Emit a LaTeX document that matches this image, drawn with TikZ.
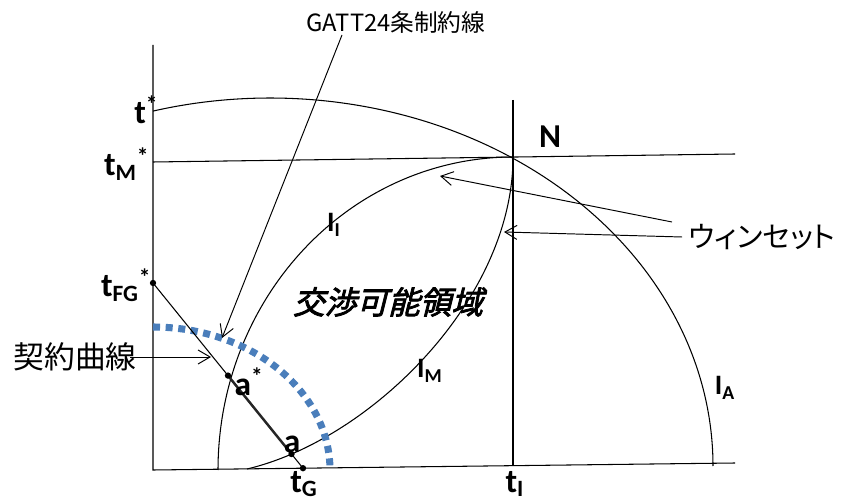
\documentclass[tikz,border=0pt]{standalone}
\usepackage{fontspec}
\setmainfont{Carlito}
\newfontfamily\jp{Noto Sans CJK JP}[RawFeature=+palt]
\newfontfamily\jpbi{Noto Sans CJK JP}[FakeSlant=0.25,FakeBold=2.5]
\usetikzlibrary{arrows.meta,intersections,calc}
\definecolor{contractblue}{RGB}{74,126,187}

\begin{document}
\begin{tikzpicture}[x=0.02cm, y=-0.02cm, line width=0.6pt,
  lbl/.style={font=\bfseries\fontsize{19}{19}\selectfont, inner sep=0pt},
  ilbl/.style={font=\bfseries\fontsize{16}{16}\selectfont, inner sep=0pt},
  jlbl/.style={font=\jp\fontsize{17.5}{17.5}\selectfont, inner sep=0pt},
  dot/.style={circle, fill, inner sep=0pt, minimum size=3.6pt},
  ptr/.style={-{Straight Barb[length=2.4mm,width=2.8mm]}, line width=0.55pt}]

\useasboundingbox (0,0) rectangle (844,502);

\def\cxA{270}
\def\cyA{466}

% axes and reference lines
\coordinate (O) at (153,470);
\coordinate (ytop) at (153,45);
\coordinate (xend) at (735,463);
\coordinate (tMs) at (153,162);
\coordinate (tMend) at (735,154);
\coordinate (N) at (513,157);
\coordinate (tItop) at (513,100);
\coordinate (tI) at (513,465.7);
\coordinate (tFG) at (153,283);
\coordinate (tG) at (303,468.2);

\draw (ytop) -- (O) -- (xend);
\draw (tMs) -- (tMend);
\draw (tItop) -- (tI);

% indifference curves
\draw[smooth, domain=105.3:0, samples=100]
  plot ({\cxA+443*cos(\x)}, {\cyA-368*sin(\x)});
\draw[smooth, domain=180:90, samples=100]
  plot ({513+295*cos(\x)}, {470-313*sin(\x)});
\draw[name path=im] (247,469) .. controls (370,440) and (513,300) .. (N);

% contract curve
\draw[contractblue, line width=4pt, dash pattern=on 4pt off 3.2pt,
  smooth, domain=90:0, samples=80]
  plot ({153+177*cos(\x)}, {470-143*sin(\x)});

% budget line
\draw[name path=bl] (tFG) -- (tG);
\path[name intersections={of=bl and im, by=a}];
\coordinate (as) at ($(tFG)!0.5!(tG)$);
\draw[line width=1.4pt, black!85] (as) -- (a);

\node[dot] at (tFG) {};
\node[dot] at (as) {};
\node[dot] at (a) {};
\node[dot] at (tG) {};

% pointers
\node[font=\jp\fontsize{13.5}{13.5}\selectfont, inner sep=0pt] (gatt) at (396,22) {GATT24条制約線};
\coordinate (gattend) at (222,338);
\draw[ptr] (342,35) -- (gattend);

\node[jlbl] (cc) at (75,357) {契約曲線};
\coordinate (ccend) at (211,357);
\draw[ptr] (130,357) -- (ccend);

\node[jlbl, font=\jp\fontsize{16.5}{16.5}\selectfont, anchor=west] (ws) at (688,237) {ウィンセット};
\coordinate (ws1) at (440,176);
\coordinate (ws2) at (504,232);
\draw[ptr] (672,222) -- (ws1);
\draw[ptr] (682,237) -- (ws2);

% labels
\node[lbl, anchor=east] (tstar) at (159,110) {t\textsuperscript{*}};
\node[lbl, anchor=east] (tM) at (150,164) {t\textsubscript{M}\textsuperscript{*}};
\node[lbl, anchor=east] (tFGl) at (152,285) {t\textsubscript{FG}\textsuperscript{*}};
\node[lbl, anchor=west] (asl) at (234,382) {a\textsuperscript{*}};
\node[lbl] (al) at (292,444) {a};
\node[lbl] (tGl) at (304,484) {t\textsubscript{G}};
\node[lbl] (tIl) at (515,484) {t\textsubscript{I}};
\node[lbl] (Nl) at (550,137) {N};
\node[ilbl] (II) at (334,225) {I\textsubscript{I}};
\node[ilbl] (IM) at (430,371) {I\textsubscript{M}};
\node[ilbl] (IA) at (725,388) {I\textsubscript{A}};
\node[font=\jpbi\fontsize{18}{18}\selectfont, inner sep=0pt] (zone) at (388,302) {交渉可能領域};

\end{tikzpicture}
\end{document}
